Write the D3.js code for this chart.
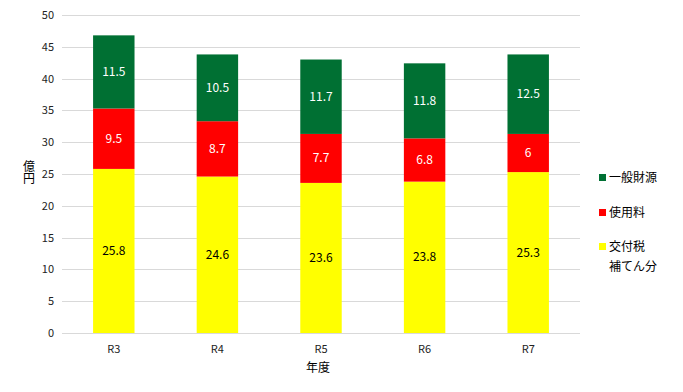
<!DOCTYPE html>
<html>
<head>
<meta charset="utf-8">
<script src="https://cdn.jsdelivr.net/npm/d3@7"></script>
<style>
  body { margin: 0; background: #fff; }
  text { font-family: "Noto Sans CJK JP", "Noto Sans", sans-serif; }
</style>
</head>
<body>
<svg id="chart" width="683" height="392"></svg>
<script>
var years = ['R3', 'R4', 'R5', 'R6', 'R7'];
var kofuzei = [25.8, 24.6, 23.6, 23.8, 25.3];
var shiyoryo = [9.5, 8.7, 7.7, 6.8, 6];
var ippan = [11.5, 10.5, 11.7, 11.8, 12.5];
var yTicks = [0, 5, 10, 15, 20, 25, 30, 35, 40, 45, 50];

var series = [
  { key: 'kofuzei', name: ['交付税', '補てん分'], values: kofuzei, color: '#ffff00', label: '#000' },
  { key: 'shiyoryo', name: ['使用料'], values: shiyoryo, color: '#ff0000', label: '#fff' },
  { key: 'ippan', name: ['一般財源'], values: ippan, color: '#007033', label: '#fff' }
];

var svg = d3.select('#chart');
var plotL = 62, plotR = 580, plotT = 15, plotB = 333;

var x = d3.scaleBand().domain(years).range([plotL, plotR]).paddingInner(0.6).paddingOuter(0.3);
var y = d3.scaleLinear().domain([0, 50]).range([plotB, plotT]);

// grid
svg.append('g').selectAll('line')
  .data(yTicks)
  .enter()
  .append('line')
  .attr('x1', plotL).attr('x2', plotR)
  .attr('y1', function (d) { return Math.round(y(d)) + 0.5; })
  .attr('y2', function (d) { return Math.round(y(d)) + 0.5; })
  .attr('stroke', '#d9d9d9');

svg.append('g').selectAll('text')
  .data(yTicks)
  .enter()
  .append('text')
  .attr('x', plotL - 8)
  .attr('y', function (d) { return y(d) + 4; })
  .attr('text-anchor', 'end')
  .attr('font-size', 11)
  .attr('fill', '#222')
  .text(function (d) { return d; });

// stacks
var rows = years.map(function (yr, i) {
  var r = { year: yr };
  series.forEach(function (s) { r[s.key] = s.values[i]; });
  return r;
});
var stacked = d3.stack().keys(series.map(function (s) { return s.key; }))(rows);

stacked.forEach(function (layer, li) {
  var s = series[li];
  var g = svg.append('g');
  g.selectAll('rect')
    .data(layer)
    .enter()
    .append('rect')
    .attr('x', function (d) { return x(d.data.year); })
    .attr('width', x.bandwidth())
    .attr('y', function (d) { return y(d[1]); })
    .attr('height', function (d) { return y(d[0]) - y(d[1]); })
    .attr('fill', s.color);
  g.selectAll('text')
    .data(layer)
    .enter()
    .append('text')
    .attr('x', function (d) { return x(d.data.year) + x.bandwidth() / 2; })
    .attr('y', function (d) { return (y(d[0]) + y(d[1])) / 2 + 4; })
    .attr('text-anchor', 'middle')
    .attr('font-size', 12)
    .attr('fill', s.label)
    .text(function (d) { return d.data[s.key]; });
});

// x labels
svg.append('g').selectAll('text')
  .data(years)
  .enter()
  .append('text')
  .attr('x', function (d) { return x(d) + x.bandwidth() / 2; })
  .attr('y', 353)
  .attr('text-anchor', 'middle')
  .attr('font-size', 11)
  .attr('fill', '#222')
  .text(function (d) { return d; });

svg.append('text')
  .attr('x', 318).attr('y', 372)
  .attr('text-anchor', 'middle')
  .attr('font-size', 12)
  .text('年度');

// y title, written top to bottom
svg.append('text')
  .attr('x', 29).attr('y', 160)
  .attr('writing-mode', 'vertical-rl')
  .attr('font-size', 12)
  .text('億円');

// legend
var legendY = [178, 213, 247];
var legendSeries = series.slice().reverse();
legendSeries.forEach(function (s, i) {
  var ly = legendY[i];
  svg.append('rect')
    .attr('x', 599).attr('y', ly - 4)
    .attr('width', 7).attr('height', 7)
    .attr('fill', s.color);
  s.name.forEach(function (line, j) {
    svg.append('text')
      .attr('x', 609).attr('y', ly + 4 + j * 20)
      .attr('font-size', 12)
      .text(line);
  });
});
</script>
</body>
</html>
